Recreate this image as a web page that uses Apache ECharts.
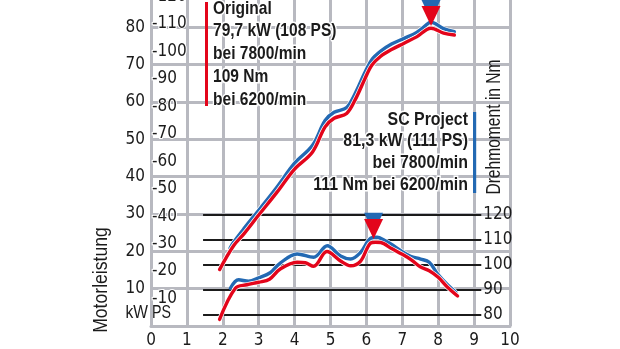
<!DOCTYPE html>
<html>
<head>
<meta charset="utf-8">
<script src="https://cdn.jsdelivr.net/npm/echarts@6/dist/echarts.min.js"></script>
<style>
html,body{margin:0;padding:0;background:#fff;overflow:hidden;width:620px;height:349px;}
#main{position:absolute;left:0;top:-40px;width:620px;height:389px;}
</style>
</head>
<body>
<div id="main"></div>
<script>
// ---- data ----
const rpmTicks = [0,1,2,3,4,5,6,7,8,9,10];            // x in 1000/min
const kwTicks = [10,20,30,40,50,60,70,80];
const psTicks = [10,20,30,40,50,60,70,80,90,100,110,120];
const nmTicks = [80,90,100,110,120];

const origPowerRpm = [1.91,2.3,2.6,3.0,3.5,4.0,4.5,4.85,5.1,5.45,5.7,5.95,6.15,6.4,6.7,7.05,7.4,7.8,8.15,8.45];
const origPowerKw  = [15.1,21.5,24.8,29.7,35.7,42.0,46.6,53.3,55.6,56.9,60.8,66.0,69.8,72.2,74.0,75.7,77.4,79.7,78.4,77.9];

const scPowerRpm = [2.2,2.3,2.6,3.0,3.5,4.0,4.5,4.85,5.1,5.45,5.7,5.95,6.15,6.4,6.7,7.05,7.4,7.75,7.8,8.15,8.45];
const scPowerKw  = [20.8,22.4,26.2,31.0,37.1,43.6,48.4,55.0,57.2,58.5,62.5,67.7,71.3,73.6,75.5,77.0,78.6,81.2,81.3,79.6,78.8];

const origTorqueRpm = [1.91,2.35,2.67,3.0,3.3,3.6,4.07,4.3,4.53,4.9,5.28,5.56,5.84,6.1,6.25,6.4,6.7,7.0,7.25,7.5,7.75,8.0,8.26,8.54];
const origTorqueNm  = [78.1,90.6,92.0,93.0,94.2,98.3,101.0,100.8,99.4,105.3,101.5,99.6,101.5,108.5,109.0,108.9,106.5,104.2,102.0,99.2,97.6,95.0,91.0,87.5];

const scTorqueRpm = [2.21,2.44,2.72,3.0,3.32,3.6,4.07,4.53,4.91,5.28,5.56,5.84,6.12,6.3,6.5,6.68,6.96,7.23,7.51,7.75,7.98,8.26,8.49];
const scTorqueNm  = [90.6,94.0,93.4,94.8,96.8,100.7,104.3,103.0,107.6,103.5,102.3,105.0,110.6,111.0,109.8,108.3,105.6,103.4,102.3,101.0,96.4,92.0,89.0];

// peak markers: [rpm, value]
const origPowerPeakMark = [7.8, 83.0];
const scPowerPeakMark   = [7.8, 84.6];
const origTorquePeakMark = [6.2, 114.3];
const scTorquePeakMark   = [6.2, 116.8];

const nmLineFrom = 1.45, nmLineTo = 9.2;

const origLegend = ['Original','79,7 kW (108 PS)','bei 7800/min','109 Nm','bei 6200/min'];
const scLegend = ['SC Project','81,3 kW (111 PS)','bei 7800/min','111 Nm bei 6200/min'];

// ---- styling ----
const RED = '#e3051b', BLUE = '#2369b3', GREY = '#b8b9c0', INK = '#1b1b1b';
const AXFONT = "'DejaVu Sans Condensed','Liberation Sans',sans-serif";
const TXFONT = "'Liberation Sans',Arial,sans-serif";

const zip = (a,b) => a.map((v,i)=>[v,b[i]]);

function curve(name, xs, ys, color, yIdx, z){
  return [
    {type:'line', name:name+'-halo', data:zip(xs,ys), yAxisIndex:yIdx, smooth:0.35, symbol:'none', silent:true,
     lineStyle:{color:'#ffffff', width:4.8}, z:z},
    {type:'line', name:name, data:zip(xs,ys), yAxisIndex:yIdx, smooth:0.35, symbol:'none', silent:true,
     lineStyle:{color:color, width:3.4, cap:'round'}, z:z+1}
  ];
}
function marker(pt, color, yIdx){
  return {type:'scatter', data:[pt], yAxisIndex:yIdx, symbol:'triangle', symbolRotate:180,
          symbolSize:[19,20], itemStyle:{color:color, opacity:1}, silent:true, z:20};
}
function txt(t, x, y, opts){
  return Object.assign({type:'text', x:x, y:y, z:30, scaleX:opts.sx||0.84,
    style:{text:t, font:(opts.bold?'bold ':'')+opts.size+'px '+TXFONT, fill:INK,
           align:opts.align||'left', verticalAlign:'middle',
           stroke:opts.halo?'#fff':null, lineWidth:opts.halo?3:0}}, opts.rot?{rotation:opts.rot}:{});
}

const chart = echarts.init(document.getElementById('main'), null, {renderer:'canvas'});

const option = {
  animation:false,
  backgroundColor:'#fff',
  textStyle:{fontFamily:AXFONT},
  grid:{left:151, right:110, top:29.8, height:337.5},
  xAxis:{type:'value', min:0, max:10, interval:1,
    axisLine:{show:true, lineStyle:{color:GREY, width:3}},
    axisTick:{show:false},
    splitLine:{show:true, lineStyle:{color:GREY, width:3}},
    axisLabel:{color:INK, fontSize:17, fontFamily:AXFONT, margin:6,
      formatter:v=> rpmTicks.includes(v)? String(v):''}
  },
  yAxis:[
    {type:'value', min:0, max:90, interval:10, position:'left',
     axisLine:{show:true, lineStyle:{color:GREY, width:3}},
     axisTick:{show:false},
     splitLine:{show:true, lineStyle:{color:GREY, width:3}},
     axisLabel:{color:INK, fontSize:17, fontFamily:AXFONT, margin:6,
       formatter:v=> kwTicks.includes(v)? String(v):''}
    },
    {type:'value', min:0, max:90*1.36, interval:10, position:'left',
     axisLine:{show:false}, axisTick:{show:false}, splitLine:{show:false},
     axisLabel:{inside:true, color:INK, fontSize:17, fontFamily:AXFONT, margin:1,
       textBorderColor:'#fff', textBorderWidth:2,
       formatter:v=> psTicks.includes(v)? '-'+v:''}
    },
    {type:'value', min:75.49, max:210.1, show:false}
  ],
  graphic:[
    {type:'rect', shape:{x:205, y:42, width:3, height:104}, style:{fill:RED}, z:30},
    {type:'rect', shape:{x:473, y:152, width:3.2, height:81}, style:{fill:BLUE}, z:30},
    ...origLegend.map((t,i)=>txt(t, 213, [49,71,94,117,140][i], {size:18.5, bold:true, halo:true})),
    ...scLegend.map((t,i)=>txt(t, 468, [160,181,203,225][i], {size:18.5, bold:true, halo:true, align:'right', sx:0.86})),
    txt('Motorleistung', 101, 320, {size:20, sx:0.88, align:'center', rot:Math.PI/2}),
    txt('Drehmoment in Nm', 495, 167, {size:19.5, sx:0.8, align:'center', rot:Math.PI/2}),
    txt('kW', 148, 353, {size:19, sx:0.82, align:'right'}),
    txt('PS', 152, 353, {size:19, sx:0.75, align:'left'})
  ],
  series:[
    {type:'line', data:[], yAxisIndex:2, z:1, silent:true,
     markLine:{symbol:['none','none'], silent:true, animation:false,
       lineStyle:{color:INK, width:2, type:'solid'},
       label:{show:true, position:'end', distance:2, formatter:'{b}', color:INK,
              fontSize:17, fontFamily:AXFONT},
       emphasis:{disabled:true},
       data:nmTicks.map(v=>[{coord:[nmLineFrom,v], name:String(v)},{coord:[nmLineTo,v]}])
     }},
    ...curve('scPower', scPowerRpm, scPowerKw, BLUE, 0, 5),
    ...curve('origPower', origPowerRpm, origPowerKw, RED, 0, 7),
    ...curve('scTorque', scTorqueRpm, scTorqueNm, BLUE, 2, 5),
    ...curve('origTorque', origTorqueRpm, origTorqueNm, RED, 2, 7),
    marker(scPowerPeakMark, BLUE, 0),
    marker(origPowerPeakMark, RED, 0),
    marker(scTorquePeakMark, BLUE, 2),
    marker(origTorquePeakMark, RED, 2)
  ]
};
chart.setOption(option);
</script>
</body>
</html>
